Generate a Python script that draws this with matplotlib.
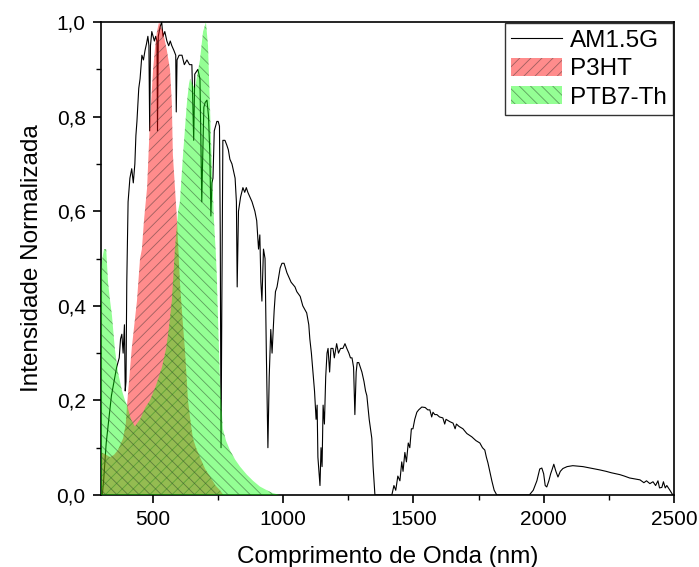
import numpy as np
import matplotlib
matplotlib.use("Agg")
import matplotlib.pyplot as plt

plt.rcParams['font.family'] = ['Liberation Sans', 'DejaVu Sans']
plt.rcParams['hatch.linewidth'] = 0.6

# AM1.5G solar spectrum (normalised)
am_wl = [300, 305, 310, 315, 320, 330, 340, 350, 360, 370, 375, 380, 385, 390, 393, 396, 399,
         404, 411, 418, 424, 430, 434, 438, 445, 450, 457, 463, 469, 475, 480, 484, 487, 490,
         495, 500, 505, 510, 515, 517, 520, 527, 533, 538, 545, 553, 560, 566, 572, 580, 587,
         589, 592, 600, 611, 620, 630, 640, 649, 656, 660, 672, 680, 687, 690, 695, 700, 707,
         713, 718, 722, 726, 730, 735, 740, 745, 750, 755, 758, 761, 764, 768, 776, 783, 789,
         795, 803, 807, 815, 820, 823, 828, 836, 845, 852, 858, 864, 872, 880, 891, 898, 905,
         910, 914, 918, 924, 930, 935, 941, 946, 952, 957, 965, 970, 976, 982, 988, 995, 1003,
         1014, 1030, 1045, 1052, 1065, 1075, 1090, 1098, 1102, 1108, 1114, 1120, 1126, 1130,
         1133, 1137, 1141, 1145, 1149, 1153, 1158, 1163, 1168, 1172, 1178, 1183, 1191, 1196,
         1205, 1212, 1220, 1229, 1237, 1244, 1252, 1258, 1264, 1270, 1275, 1280, 1284, 1290,
         1296, 1302, 1310, 1316, 1321, 1330, 1335, 1340, 1345, 1352, 1400, 1417, 1425, 1432,
         1440, 1448, 1455, 1460, 1467, 1473, 1480, 1486, 1492, 1498, 1505, 1513, 1520, 1532,
         1545, 1555, 1563, 1570, 1575, 1582, 1590, 1600, 1613, 1620, 1625, 1640, 1652, 1660,
         1665, 1675, 1690, 1705, 1724, 1740, 1755, 1765, 1774, 1780, 1786, 1795, 1801, 1810,
         1820, 1945, 1960, 1974, 1985, 1993, 2000, 2006, 2012, 2020, 2027, 2032, 2039, 2047,
         2055, 2064, 2074, 2090, 2112, 2130, 2151, 2170, 2190, 2216, 2240, 2260, 2293, 2310,
         2330, 2350, 2370, 2385, 2395, 2408, 2420, 2430, 2439, 2445, 2454, 2460, 2467, 2473,
         2485, 2496, 2500]
am_val = [0.0, 0.0, 0.03, 0.07, 0.11, 0.16, 0.21, 0.24, 0.27, 0.29, 0.33, 0.34, 0.30, 0.36, 0.22,
          0.24, 0.45, 0.62, 0.67, 0.69, 0.66, 0.70, 0.76, 0.79, 0.86, 0.88, 0.93, 0.92, 0.94,
          0.955, 0.97, 0.95, 0.77, 0.95, 0.98, 0.97, 0.96, 0.97, 0.96, 0.77, 0.97, 0.99, 1.00,
          0.97, 0.98, 0.96, 0.95, 0.96, 0.95, 0.94, 0.93, 0.81, 0.92, 0.93, 0.93, 0.91, 0.92,
          0.91, 0.91, 0.75, 0.89, 0.90, 0.88, 0.62, 0.70, 0.82, 0.83, 0.835, 0.80, 0.72, 0.59,
          0.66, 0.67, 0.77, 0.78, 0.79, 0.79, 0.78, 0.55, 0.10, 0.40, 0.75, 0.75, 0.74, 0.73,
          0.71, 0.70, 0.69, 0.67, 0.62, 0.44, 0.60, 0.63, 0.65, 0.64, 0.65, 0.64, 0.63, 0.62,
          0.60, 0.58, 0.52, 0.55, 0.45, 0.41, 0.52, 0.50, 0.30, 0.10, 0.25, 0.35, 0.30, 0.39,
          0.43, 0.44, 0.46, 0.48, 0.49, 0.49, 0.47, 0.45, 0.44, 0.43, 0.42, 0.40, 0.385, 0.36,
          0.33, 0.30, 0.26, 0.22, 0.16, 0.19, 0.08, 0.05, 0.02, 0.10, 0.06, 0.19, 0.15, 0.25,
          0.30, 0.31, 0.26, 0.31, 0.31, 0.29, 0.32, 0.30, 0.31, 0.31, 0.32, 0.31, 0.30, 0.29,
          0.29, 0.27, 0.17, 0.26, 0.28, 0.28, 0.27, 0.26, 0.24, 0.22, 0.21, 0.16, 0.14, 0.12,
          0.06, 0.0, 0.0, 0.0, 0.02, 0.01, 0.04, 0.03, 0.07, 0.05, 0.09, 0.07, 0.11, 0.10, 0.14,
          0.14, 0.16, 0.175, 0.18, 0.186, 0.185, 0.18, 0.18, 0.165, 0.175, 0.17, 0.17, 0.165,
          0.163, 0.15, 0.16, 0.155, 0.152, 0.14, 0.15, 0.145, 0.14, 0.13, 0.123, 0.115, 0.11,
          0.10, 0.095, 0.08, 0.068, 0.045, 0.03, 0.01, 0.0, 0.0, 0.01, 0.03, 0.055, 0.057, 0.045,
          0.02, 0.017, 0.03, 0.045, 0.053, 0.065, 0.05, 0.038, 0.05, 0.056, 0.06, 0.062, 0.061,
          0.06, 0.058, 0.056, 0.053, 0.05, 0.047, 0.043, 0.04, 0.036, 0.034, 0.032, 0.026, 0.03,
          0.024, 0.028, 0.02, 0.03, 0.015, 0.016, 0.028, 0.015, 0.02, 0.01, 0.0, 0.0]

# P3HT absorption (normalised)
p3ht_wl = [300, 310, 320, 335, 350, 365, 385, 395, 400, 418, 438, 450, 457, 465, 477, 488, 500,
           510, 515, 523, 530, 538, 553, 565, 572, 576, 584, 592, 603, 612, 622, 634, 645, 653,
           665, 680, 700, 718, 740, 757, 770]
p3ht_val = [0.09, 0.088, 0.085, 0.08, 0.085, 0.095, 0.12, 0.15, 0.19, 0.31, 0.41, 0.50, 0.52,
            0.58, 0.65, 0.79, 0.90, 0.96, 0.98, 1.0, 0.99, 0.98, 0.94, 0.90, 0.83, 0.72, 0.65,
            0.58, 0.45, 0.38, 0.31, 0.20, 0.15, 0.12, 0.10, 0.08, 0.055, 0.04, 0.02, 0.01, 0.0]

# PTB7-Th absorption (normalised)
ptb7_wl = [300, 305, 312, 320, 327, 335, 342, 353, 365, 381, 392, 400, 415, 430, 450, 470, 488,
           510, 534, 550, 560, 572, 584, 596, 603, 615, 630, 638, 642, 650, 661, 670, 680, 692,
           703, 711, 718, 726, 734, 741, 745, 749, 757, 768, 780, 795, 815, 834, 860, 884, 910,
           937, 960, 987]
ptb7_val = [0.47, 0.50, 0.52, 0.52, 0.45, 0.41, 0.38, 0.31, 0.26, 0.22, 0.20, 0.19, 0.16, 0.145,
            0.16, 0.185, 0.20, 0.23, 0.27, 0.31, 0.35, 0.41, 0.52, 0.60, 0.62, 0.72, 0.83, 0.87,
            0.88, 0.87, 0.86, 0.89, 0.92, 0.98, 1.0, 0.95, 0.83, 0.69, 0.58, 0.51, 0.46, 0.38,
            0.24, 0.14, 0.115, 0.095, 0.075, 0.06, 0.043, 0.03, 0.018, 0.01, 0.004, 0.0]

x_ticks = [500, 1000, 1500, 2000, 2500]
y_ticks = [0.0, 0.2, 0.4, 0.6, 0.8, 1.0]
y_tick_labels = ['0,0', '0,2', '0,4', '0,6', '0,8', '1,0']

fig = plt.figure(figsize=(6.99, 5.67), dpi=100)
ax = fig.add_axes([0.1445, 0.127, 0.8195, 0.834])

ax.plot(am_wl, am_val, color='black', lw=0.8, label='AM1.5G', zorder=1)
ax.fill_between(p3ht_wl, p3ht_val, 0, facecolor=(1, 0, 0, 0.45), edgecolor=(0.25, 0.2, 0.2, 0.5),
                hatch='///', lw=0, label='P3HT', zorder=2)
ax.fill_between(ptb7_wl, ptb7_val, 0, facecolor=(0, 1, 0, 0.42), edgecolor=(0.15, 0.25, 0.15, 0.5),
                hatch='\\\\\\', lw=0, label='PTB7-Th', zorder=3)

ax.set_xlim(300, 2500)
ax.set_ylim(0, 1.0)
ax.set_xticks(x_ticks)
ax.set_xticks(np.arange(750, 2500, 500), minor=True)
ax.set_yticks(y_ticks)
ax.set_yticklabels(y_tick_labels)
ax.set_yticks(np.arange(0.1, 1.0, 0.2), minor=True)
ax.tick_params(which='major', direction='out', length=6, width=1.2, labelsize=15, pad=5)
ax.tick_params(which='minor', direction='out', length=3.5, width=1.0)
for s in ax.spines.values():
    s.set_linewidth(1.2)

ax.set_xlabel('Comprimento de Onda (nm)', fontsize=17.5, labelpad=12)
ax.set_ylabel('Intensidade Normalizada', fontsize=17.5, labelpad=10)

leg = ax.legend(loc='upper right', fontsize=17.5, frameon=True, fancybox=False,
                edgecolor='black', borderaxespad=0.05, handlelength=2.1, handleheight=0.75,
                handletextpad=0.3, borderpad=0.25, labelspacing=0.25)
leg.get_frame().set_linewidth(1.0)

fig.savefig('out.png', dpi=100)
